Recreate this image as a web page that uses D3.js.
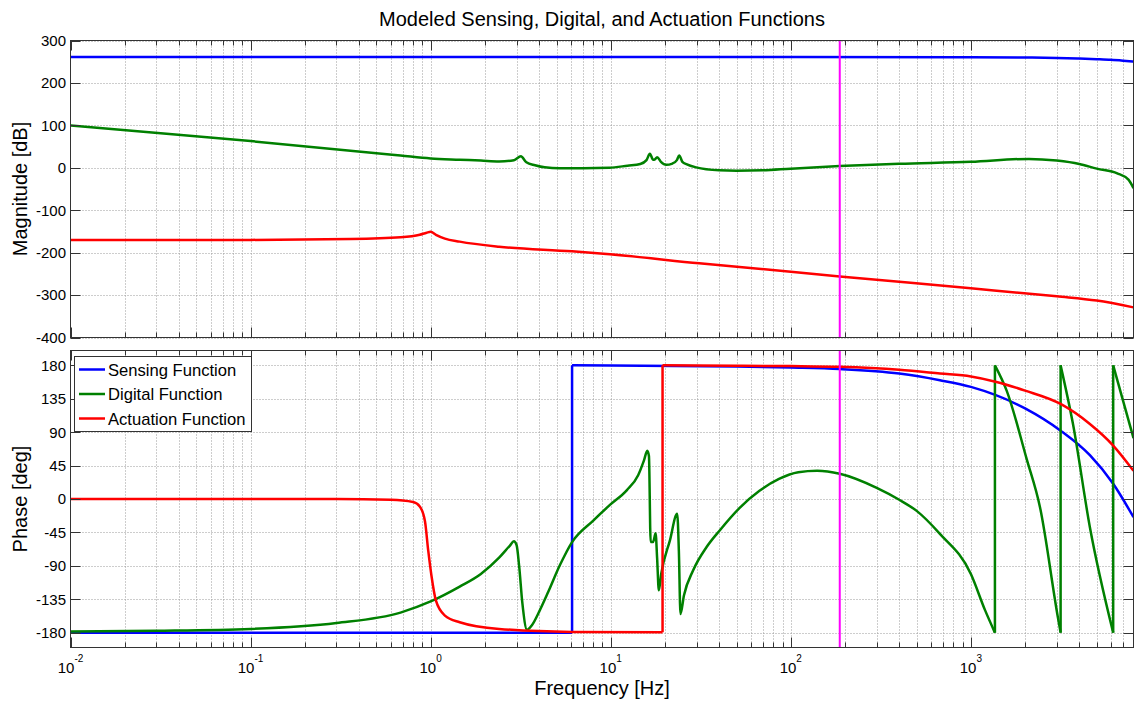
<!DOCTYPE html>
<html>
<head>
<meta charset="utf-8">
<script src="https://cdn.jsdelivr.net/npm/d3@7"></script>
<style>
  body { margin: 0; background: #fff; }
  svg { display: block; }
  text { font-family: "Liberation Sans", Arial, Helvetica, sans-serif; fill: #000; }
</style>
</head>
<body>
<svg id="chart" width="1139" height="702"></svg>
<script>
const freqDomain = [0.01, 8000];
const decadeTicks = [0.01, 0.1, 1, 10, 100, 1000];
const decadeExponents = ['-2', '-1', '0', '1', '2', '3'];
const magnitudeTicks = [-400, -300, -200, -100, 0, 100, 200, 300];
const phaseTicks = [-180, -135, -90, -45, 0, 45, 90, 135, 180];
const unityGainFreq = 187;

const seriesNames = ['Sensing Function', 'Digital Function', 'Actuation Function'];
const seriesColors = ['#0000ff', '#008000', '#ff0000'];

// sensing
const sensingMagFreq = [0.01, 100, 1000, 2000, 3000, 4000, 5000, 6000, 7000, 8000];
const sensingMag = [261, 261, 260.7, 260, 259, 257.5, 256, 254.5, 252.5, 250.5];
const sensingPhaseFreq = [0.01, 6.1, 6.1, 10, 50, 100, 187, 400, 673, 1000, 2000, 3150, 4580, 6170, 8000];
const sensingPhase = [-180, -180, 180, 179.8, 178.5, 177, 175, 169, 160, 151, 122, 92, 59, 20.5, -24.5];

// digital
const digitalMagFreq = [0.01, 0.1, 0.68, 1.0, 1.45, 1.9, 2.4, 2.9, 3.17, 3.4, 3.8, 4.3, 5.2, 7, 9.8, 12.4,
  14.6, 15.8, 16.5, 17.2, 17.6, 18.1, 19, 20.3, 22, 23.3, 24.0, 25, 26.5, 29.8, 40, 50, 70, 100, 187, 400,
  1000, 2100, 3000, 4000, 5000, 6500, 7500, 8000];
const digitalMag = [100, 63, 29, 22, 19, 17, 15, 18, 27, 13, 6, 1, -1, -1, 0, 5,
  9, 18, 33, 19, 20, 25, 14, 7, 10, 18, 29, 14, 8, 1, -6, -7, -6, -2, 4, 9.5,
  14, 21, 17, 9, -2, -13, -28, -48];
const digitalPhaseFreq = [0.01, 0.03, 0.1, 0.3, 0.68, 1.0, 1.45, 1.9, 2.4, 2.75, 2.9, 3.0, 3.1, 3.23, 3.43,
  3.65, 4.0, 4.5, 5.2, 6.1, 8.0, 9.9, 12.3, 14.2, 15.3, 15.95, 16.3, 16.66, 17.2, 17.75, 18.1, 18.5, 19.1,
  21.3, 23.4, 23.9, 24.4, 25.5, 28.7, 34, 40.4, 52, 67, 86, 110, 140, 187, 300, 400, 500, 673, 1000, 1200,
  1360, 1360, 1580, 2040, 2420, 3040, 3150, 3150, 3690, 4580, 6170, 6170, 8000];
const digitalPhase = [-178.5, -177.5, -175, -167, -153, -138, -118, -101, -79, -63, -57, -62, -90, -140, -176,
  -170, -152, -125, -90, -58, -29, -8, 12, 32, 52, 65, 58, -58, -58, -46, -80, -123, -100,
  -56, -20, -70, -155, -130, -96, -65, -42, -12, 11, 27, 36, 38, 34, 15, -1, -16, -47, -101, -150,
  -180, 180, 146, 54, -11, -159, -180, 180, 101, -38, -180, 180, 82];

// actuation
const actuationMagFreq = [0.01, 0.1, 0.36, 0.68, 0.87, 0.95, 1.0, 1.07, 1.2, 1.45, 2.4, 6.1, 9.9, 31, 100, 187,
  1000, 3000, 5000, 8000];
const actuationMag = [-170, -170, -168, -164, -158, -153, -151, -158, -167, -174, -186, -197, -204, -225, -245, -256,
  -284, -303, -313, -329];
const actuationPhaseFreq = [0.01, 0.3, 0.6, 0.8, 0.87, 0.93, 0.97, 1.01, 1.07, 1.2, 1.45, 2.4, 6.1, 19.4, 19.4,
  50, 100, 187, 400, 673, 1000, 1370, 2000, 3150, 4580, 6170, 8000];
const actuationPhase = [0, 0, -1, -4, -10, -30, -70, -103, -137, -157, -166, -175, -179, -179.5, 180,
  179.5, 179, 178, 174, 169, 165, 158, 146, 128, 101, 72, 38];

const magSeries = [[sensingMagFreq, sensingMag], [digitalMagFreq, digitalMag], [actuationMagFreq, actuationMag]];
const phaseSeries = [[sensingPhaseFreq, sensingPhase], [digitalPhaseFreq, digitalPhase], [actuationPhaseFreq, actuationPhase]];

const svg = d3.select('#chart');
const left = 70.5, right = 1133.5;

const x = d3.scaleLog().domain(freqDomain).range([left, right]);

const minorTicks = [];
decadeTicks.forEach((d) => {
  for (let k = 2; k <= 9; k++) {
    if (k * d < freqDomain[1]) minorTicks.push(k * d);
  }
});

const line = (y) => d3.line()
  .x((d) => x(d[0]))
  .y((d) => y(d[1]))
  .curve(d3.curveMonotoneX);

function drawPanel(id, y, yTicks, series, showXLabels) {
  const [bottom, top] = y.range();
  const g = svg.append('g');

  g.append('clipPath').attr('id', id)
    .append('rect')
    .attr('x', left).attr('y', top)
    .attr('width', right - left).attr('height', bottom - top);

  const grid = g.append('g')
    .attr('stroke', '#9a9a9a')
    .attr('stroke-width', 1)
    .attr('stroke-dasharray', '1,2');
  grid.selectAll('.vx').data(decadeTicks.slice(1).concat(minorTicks)).join('line')
    .attr('x1', (d) => Math.round(x(d)) + 0.5).attr('x2', (d) => Math.round(x(d)) + 0.5)
    .attr('y1', top).attr('y2', bottom);
  grid.selectAll('.hy').data(yTicks).join('line')
    .attr('x1', left).attr('x2', right)
    .attr('y1', (d) => Math.round(y(d)) + 0.5).attr('y2', (d) => Math.round(y(d)) + 0.5);

  const plot = g.append('g').attr('clip-path', `url(#${id})`);
  series.forEach(([freqs, vals], i) => {
    const segs = [[]];
    freqs.forEach((f, j) => {
      if (j > 0 && f === freqs[j - 1]) {
        plot.append('line')
          .attr('x1', x(f)).attr('x2', x(f))
          .attr('y1', y(vals[j - 1])).attr('y2', y(vals[j]))
          .attr('stroke', seriesColors[i]).attr('stroke-width', 2.5);
        segs.push([]);
      }
      segs[segs.length - 1].push([f, vals[j]]);
    });
    segs.forEach((s) => {
      plot.append('path')
        .attr('d', line(y)(s))
        .attr('fill', 'none')
        .attr('stroke', seriesColors[i])
        .attr('stroke-width', 2.5)
        .attr('stroke-linejoin', 'round');
    });
  });

  plot.append('line')
    .attr('x1', x(unityGainFreq)).attr('x2', x(unityGainFreq))
    .attr('y1', top).attr('y2', bottom)
    .attr('stroke', '#ff00ff').attr('stroke-width', 2);

  const axisColor = '#333';
  const ticks = g.append('g').attr('stroke', axisColor).attr('stroke-width', 1);
  const xTick = (f, len) => {
    const px = Math.round(x(f)) + 0.5;
    ticks.append('line').attr('x1', px).attr('x2', px).attr('y1', bottom).attr('y2', bottom - len);
    ticks.append('line').attr('x1', px).attr('x2', px).attr('y1', top).attr('y2', top + len);
  };
  decadeTicks.forEach((f) => xTick(f, 10));
  minorTicks.forEach((f) => xTick(f, 5));
  yTicks.forEach((v) => {
    const py = Math.round(y(v)) + 0.5;
    ticks.append('line').attr('x1', left).attr('x2', left + 10).attr('y1', py).attr('y2', py);
    ticks.append('line').attr('x1', right).attr('x2', right - 10).attr('y1', py).attr('y2', py);
  });

  g.append('rect')
    .attr('x', left).attr('y', top)
    .attr('width', right - left).attr('height', bottom - top)
    .attr('fill', 'none').attr('stroke', axisColor).attr('stroke-width', 1);

  g.selectAll('.ylab').data(yTicks).join('text')
    .attr('x', 66)
    .attr('y', (d) => y(d))
    .attr('dy', '0.36em')
    .attr('text-anchor', 'end')
    .attr('font-size', 15)
    .text((d) => d);

  if (showXLabels) {
    const labels = g.selectAll('.xlab').data(decadeTicks).join('text')
      .attr('x', (d) => x(d))
      .attr('y', 672.5)
      .attr('text-anchor', 'middle')
      .attr('font-size', 15)
      .text('10');
    labels.append('tspan')
      .attr('dy', -11)
      .attr('font-size', 10)
      .text((d, i) => decadeExponents[i]);
  }
  return g;
}

const yMag = d3.scaleLinear().domain([-400, 300]).range([337.5, 40.5]);
const yPhase = d3.scaleLinear().domain([-200, 200]).range([647.5, 350.5]);

drawPanel('clipMag', yMag, magnitudeTicks, magSeries, false);
drawPanel('clipPhase', yPhase, phaseTicks, phaseSeries, true);

// legend
const legend = svg.append('g');
legend.append('rect')
  .attr('x', 74.5).attr('y', 356.5)
  .attr('width', 177).attr('height', 75)
  .attr('fill', '#fff').attr('stroke', '#333');
seriesNames.forEach((name, i) => {
  const ly = 369.5 + i * 24.5;
  legend.append('line')
    .attr('x1', 79).attr('x2', 105).attr('y1', ly).attr('y2', ly)
    .attr('stroke', seriesColors[i]).attr('stroke-width', 2.5);
  legend.append('text')
    .attr('x', 108).attr('y', ly + 6)
    .attr('font-size', 16.6)
    .text(name);
});

svg.append('text')
  .attr('x', (left + right) / 2).attr('y', 26)
  .attr('text-anchor', 'middle')
  .attr('font-size', 20)
  .text('Modeled Sensing, Digital, and Actuation Functions');

svg.append('text')
  .attr('x', (left + right) / 2).attr('y', 695)
  .attr('text-anchor', 'middle')
  .attr('font-size', 20)
  .text('Frequency [Hz]');

svg.append('text')
  .attr('transform', `translate(27,${(yMag.range()[0] + yMag.range()[1]) / 2}) rotate(-90)`)
  .attr('text-anchor', 'middle')
  .attr('font-size', 20)
  .text('Magnitude [dB]');

svg.append('text')
  .attr('transform', `translate(27,${(yPhase.range()[0] + yPhase.range()[1]) / 2}) rotate(-90)`)
  .attr('text-anchor', 'middle')
  .attr('font-size', 20)
  .text('Phase [deg]');
</script>
</body>
</html>
